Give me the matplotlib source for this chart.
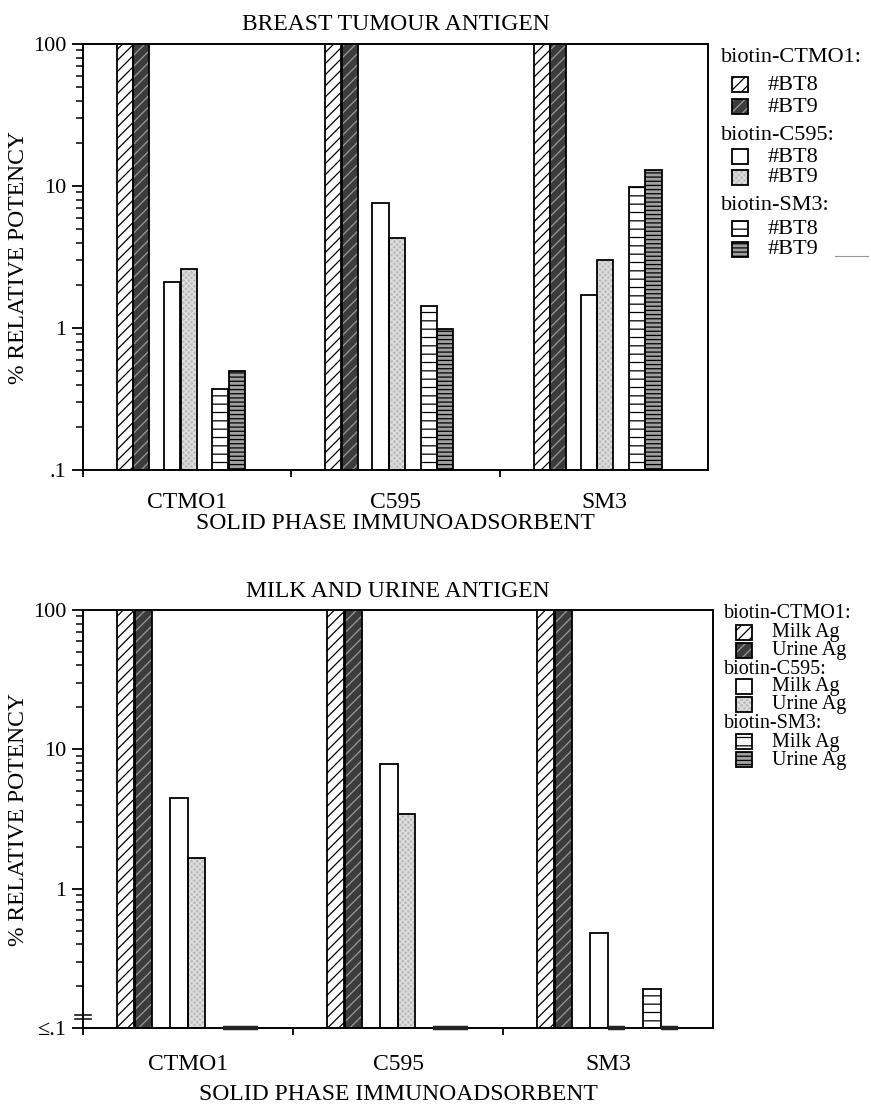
import matplotlib
matplotlib.use("Agg")
import matplotlib.pyplot as plt
import numpy as np
from matplotlib.patches import Rectangle
from matplotlib.lines import Line2D
from matplotlib.ticker import FixedLocator, FixedFormatter, NullFormatter

plt.rcParams["font.family"] = ["Liberation Serif", "DejaVu Serif"]
plt.rcParams["hatch.linewidth"] = 0.9

W, H = 871, 1107
FS = 17

groups = ["CTMO1", "C595", "SM3"]

# breast tumour antigen, % relative potency per solid phase
bt_ctmo1_bt8 = [100, 100, 100]
bt_ctmo1_bt9 = [100, 100, 100]
bt_c595_bt8 = [2.1, 7.6, 1.7]
bt_c595_bt9 = [2.6, 4.3, 3.0]
bt_sm3_bt8 = [0.37, 1.42, 9.9]
bt_sm3_bt9 = [0.5, 0.98, 12.9]

# milk and urine antigen (0.1 means <= .1)
mu_ctmo1_milk = [100, 100, 100]
mu_ctmo1_urine = [100, 100, 100]
mu_c595_milk = [4.45, 7.8, 0.48]
mu_c595_urine = [1.66, 3.45, 0.1]
mu_sm3_milk = [0.1, 0.1, 0.19]
mu_sm3_urine = [0.1, 0.1, 0.1]

top_labels = ["#BT8", "#BT9"]
bottom_labels = ["Milk Ag", "Urine Ag"]
biotin_names = ["biotin-CTMO1:", "biotin-C595:", "biotin-SM3:"]

# fill, hatch colour, hatch
styles = [
    ("white", "black", "///"),
    ("#3c3c3c", "#9a9a9a", "///"),
    ("white", "black", None),
    ("#bdbdbd", "#e0e0e0", "xxxxxx"),
    ("white", "black", "--"),
    ("#a0a0a0", "black", "----"),
]


def px(x, y):
    return x / W, 1 - y / H


def draw_bars(ax, series, offsets, width):
    x0 = np.arange(len(groups))
    for vals, off, (fc, hc, hatch) in zip(series, offsets, styles):
        vals = np.asarray(vals, dtype=float)
        ax.bar(x0 + off, vals - 0.1, bottom=0.1, width=width, align="edge",
               facecolor=fc, edgecolor=hc, hatch=hatch, linewidth=0, zorder=2)
        ax.bar(x0 + off, vals - 0.1, bottom=0.1, width=width, align="edge",
               fill=False, edgecolor="black", linewidth=1.3, zorder=3)
        # values at the floor show as a flat slab on the baseline
        floor = vals <= 0.1
        if floor.any():
            ax.bar((x0 + off)[floor], 0, bottom=0.1, width=width, align="edge",
                   fill=False, edgecolor="#222222", linewidth=3.2, zorder=4,
                   clip_on=False)


def style_axes(ax, title, bottom_label, tpad, xpad):
    ax.set_yscale("log")
    ax.set_ylim(0.1, 100)
    ax.set_xlim(0, 3)
    for s in ax.spines.values():
        s.set_linewidth(1.4)
    ax.yaxis.set_major_locator(FixedLocator([0.1, 1, 10, 100]))
    ax.yaxis.set_major_formatter(FixedFormatter([bottom_label, "1", "10", "100"]))
    minors = [m * d for d in (0.1, 1, 10) for m in range(2, 10)]
    ax.yaxis.set_minor_locator(FixedLocator(minors))
    ax.yaxis.set_minor_formatter(NullFormatter())
    ax.tick_params(axis="y", which="major", length=8, width=1.3, labelsize=16, pad=4)
    ax.tick_params(axis="y", which="minor", length=5, width=1.1)
    ax.xaxis.set_major_locator(FixedLocator([0, 1, 2]))
    ax.xaxis.set_major_formatter(NullFormatter())
    ax.xaxis.set_minor_locator(FixedLocator([0.5, 1.5, 2.5]))
    ax.xaxis.set_minor_formatter(FixedFormatter(groups))
    ax.tick_params(axis="x", which="major", length=5, width=1.3)
    ax.tick_params(axis="x", which="minor", length=0, labelsize=FS, pad=tpad)
    ax.set_xlabel("SOLID PHASE IMMUNOADSORBENT", fontsize=FS, labelpad=xpad)
    ax.set_ylabel("% RELATIVE POTENCY", fontsize=FS, labelpad=3)
    ax.text(0.5, 1.02, title, transform=ax.transAxes, ha="center",
            va="bottom", fontsize=FS)


def draw_legend(fig, x_head, x_box, x_lab, rows, labels, fs):
    for k, (name, y_head, y_a, y_b) in enumerate(rows):
        fig.text(*px(x_head, y_head), name, fontsize=fs, va="center", ha="left")
        for j, (yy, lab) in enumerate(zip((y_a, y_b), labels)):
            fc, hc, hatch = styles[2 * k + j]
            bx, by = px(x_box, yy + 7)
            bw, bh = 16 / W, 15 / H
            fig.add_artist(Rectangle((bx, by), bw, bh, transform=fig.transFigure,
                                     facecolor=fc, edgecolor=hc, hatch=hatch,
                                     linewidth=0))
            fig.add_artist(Rectangle((bx, by), bw, bh, transform=fig.transFigure,
                                     fill=False, edgecolor="black", linewidth=1.3))
            fig.text(*px(x_lab, yy), lab, fontsize=fs, va="center", ha="left")


fig = plt.figure(figsize=(W / 100, H / 100), dpi=100)

# breast tumour antigen
ax1 = fig.add_axes([83 / W, 1 - 470 / H, 625 / W, 426 / H])
draw_bars(ax1, [bt_ctmo1_bt8, bt_ctmo1_bt9, bt_c595_bt8, bt_c595_bt9, bt_sm3_bt8, bt_sm3_bt9],
          [0.163, 0.240, 0.389, 0.468, 0.620, 0.699], 0.078)
style_axes(ax1, "BREAST TUMOUR ANTIGEN", ".1", 16, 0)

# milk and urine antigen
ax2 = fig.add_axes([83 / W, 1 - 1028 / H, 630 / W, 418 / H])
draw_bars(ax2, [mu_ctmo1_milk, mu_ctmo1_urine, mu_c595_milk, mu_c595_urine, mu_sm3_milk, mu_sm3_urine],
          [0.162, 0.245, 0.414, 0.498, 0.667, 0.751], 0.084)
style_axes(ax2, "MILK AND URINE ANTIGEN", "≤.1", 19, 6)

# axis break on the lower y axis
for yb in (0.022, 0.032):
    ax2.add_line(Line2D([-0.012, 0.012], [yb, yb], transform=ax2.transAxes,
                        color="black", linewidth=1.1, clip_on=False))

draw_legend(fig, 721, 732, 768,
            [(biotin_names[0], 57, 85, 107),
             (biotin_names[1], 135, 157, 178),
             (biotin_names[2], 206, 229, 250)],
            top_labels, 16)
draw_legend(fig, 724, 736, 772,
            [(biotin_names[0], 613, 633, 651),
             (biotin_names[1], 669, 687, 705),
             (biotin_names[2], 723, 742, 760)],
            bottom_labels, 14.5)

fig.add_artist(Line2D([835 / W, 868 / W], [1 - 256 / H, 1 - 256 / H],
                      transform=fig.transFigure, color="#999999", linewidth=0.8))

fig.savefig("out.png", dpi=100, facecolor="white")
